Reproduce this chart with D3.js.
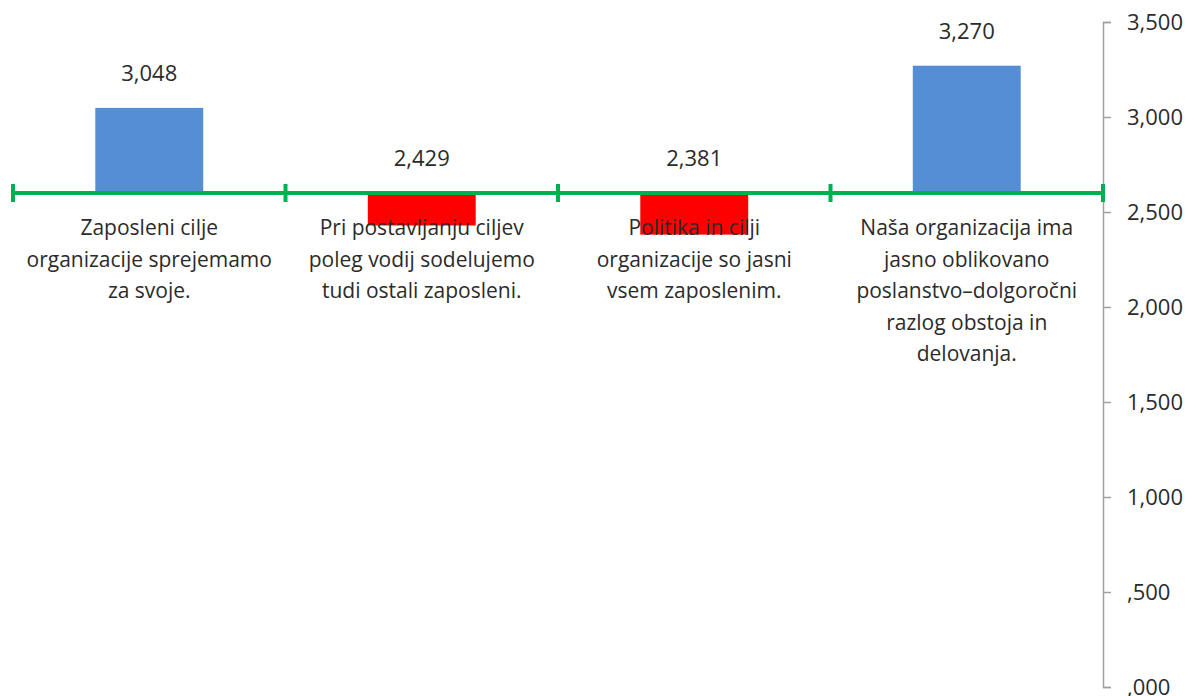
<!DOCTYPE html>
<html>
<head>
<meta charset="utf-8">
<script src="https://cdn.jsdelivr.net/npm/d3@7"></script>
<style>
  body { margin: 0; background: #fff; }
  text { font-family: "Open Sans", "Noto Sans", sans-serif; fill: #2b2b2b; }
</style>
</head>
<body>
<svg id="vis" width="1197" height="696"></svg>
<script>
// data
const categories = ['c1', 'c2', 'c3', 'c4'];
const categoryLines = [
  ['Zaposleni cilje', 'organizacije sprejemamo', 'za svoje.'],
  ['Pri postavljanju ciljev', 'poleg vodij sodelujemo', 'tudi ostali zaposleni.'],
  ['Politika in cilji', 'organizacije so jasni', 'vsem zaposlenim.'],
  ['Naša organizacija ima', 'jasno oblikovano', 'poslanstvo–dolgoročni', 'razlog obstoja in', 'delovanja.']
];
const values = [3048, 2429, 2381, 3270];
const crossAt = 2600; // horizontal axis crosses here
const yTicks = [0, 500, 1000, 1500, 2000, 2500, 3000, 3500];
const yTickLabels = [',000', ',500', '1,000', '1,500', '2,000', '2,500', '3,000', '3,500'];

const vis = d3.select('#vis');

const plotLeft = 13, plotRight = 1103, plotTop = 22, plotBottom = 687;

const x = d3.scaleBand()
  .domain(categories)
  .range([plotLeft, plotRight])
  .paddingInner(0.604)
  .paddingOuter(0.302);

const step = (plotRight - plotLeft) / categories.length;

const y = d3.scaleLinear()
  .domain([0, 3500])
  .range([plotBottom, plotTop]);

// right-hand value axis
const yAxis = d3.axisRight(y)
  .tickValues(yTicks)
  .tickSize(8)
  .tickPadding(16)
  .tickFormat((d, i) => yTickLabels[i]);

const ag = vis.append('g')
  .attr('transform', `translate(${plotRight},0)`)
  .call(yAxis);
ag.select('.domain').attr('stroke', '#a0a0a0').attr('stroke-width', 1.5);
ag.selectAll('.tick line').attr('stroke', '#a0a0a0').attr('stroke-width', 1.5);
ag.selectAll('.tick text')
  .style('font-family', '"Open Sans", "Noto Sans", sans-serif')
  .style('font-size', '22px')
  .attr('fill', '#2b2b2b');

// bars, measured from the crossing value
vis.append('g')
  .selectAll('rect')
  .data(values)
  .enter()
  .append('rect')
  .attr('x', (d, i) => x(categories[i]))
  .attr('width', x.bandwidth())
  .attr('y', d => Math.min(y(d), y(crossAt)))
  .attr('height', d => Math.abs(y(d) - y(crossAt)))
  .attr('fill', d => d >= crossAt ? '#558ed5' : '#ff0000');

// green category axis on top of bars
const base = y(crossAt);
vis.append('line')
  .attr('x1', plotLeft).attr('x2', plotRight)
  .attr('y1', base).attr('y2', base)
  .attr('stroke', '#00b050')
  .attr('stroke-width', 4);

vis.append('g')
  .selectAll('line')
  .data(d3.range(categories.length + 1))
  .enter()
  .append('line')
  .attr('x1', i => plotLeft + i * step)
  .attr('x2', i => plotLeft + i * step)
  .attr('y1', base - 9)
  .attr('y2', base + 9)
  .attr('stroke', '#00b050')
  .attr('stroke-width', 4);

// value labels
vis.append('g')
  .selectAll('text')
  .data(values)
  .enter()
  .append('text')
  .attr('x', (d, i) => x(categories[i]) + x.bandwidth() / 2)
  .attr('y', d => Math.min(y(d), base) - 27)
  .attr('text-anchor', 'middle')
  .style('font-size', '22px')
  .text(d => d3.format(',')(d));

// category labels
const cl = vis.append('g')
  .selectAll('text')
  .data(categoryLines)
  .enter()
  .append('text')
  .attr('text-anchor', 'middle')
  .style('font-size', '21px');

cl.selectAll('tspan')
  .data((d, i) => d.map(t => ({ t, i })))
  .enter()
  .append('tspan')
  .attr('x', d => x(categories[d.i]) + x.bandwidth() / 2)
  .attr('y', (d, j) => 235 + j * 31.5)
  .text(d => d.t);
</script>
</body>
</html>
